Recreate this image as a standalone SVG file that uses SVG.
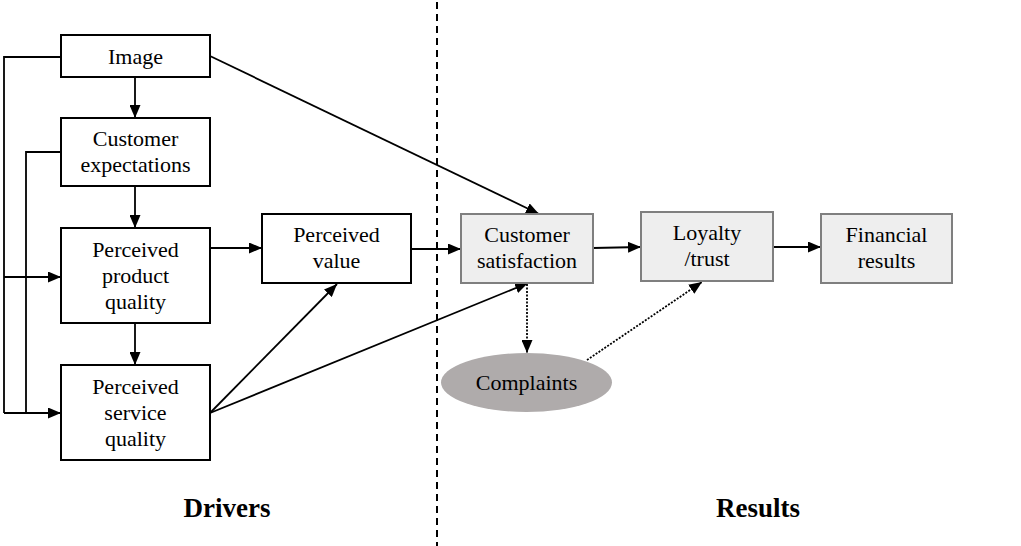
<svg xmlns="http://www.w3.org/2000/svg" width="1021" height="546" viewBox="0 0 1021 546">
<style>
.box{fill:#fff;stroke:#000;stroke-width:2}
.gbox{fill:#eeeeee;stroke:#7f7f7f;stroke-width:2}
.t{font-family:"Liberation Serif","Times New Roman",serif;font-size:22px;fill:#000;text-anchor:middle}
.b{font-family:"Liberation Serif","Times New Roman",serif;font-size:27px;font-weight:bold;fill:#000;text-anchor:middle}
.c{fill:none;stroke:#000;stroke-width:1.8}
.d{fill:none;stroke:#000;stroke-width:1.8;stroke-dasharray:2 1.5}
</style>
<defs>
<marker id="ah" viewBox="0 0 13 11" refX="13" refY="5.5" markerWidth="13" markerHeight="11" markerUnits="userSpaceOnUse" orient="auto">
<path d="M0,0 L13,5.5 L0,11 Z" fill="#000"/>
</marker>
</defs>
<line x1="437" y1="2" x2="437" y2="546" stroke="#000" stroke-width="2" stroke-dasharray="7 5"/>
<g id="connectors">
<polyline class="c" points="61,57 4,57 4,413"/>
<polyline class="c" points="61,152 26,152 26,413"/>
<line class="c" x1="4" y1="277" x2="61" y2="277" marker-end="url(#ah)"/>
<line class="c" x1="4" y1="413" x2="61" y2="413" marker-end="url(#ah)"/>
<line class="c" x1="135" y1="77" x2="135" y2="118" marker-end="url(#ah)"/>
<line class="c" x1="135" y1="186" x2="135" y2="228" marker-end="url(#ah)"/>
<line class="c" x1="135" y1="323" x2="135" y2="365" marker-end="url(#ah)"/>
<line class="c" x1="210" y1="248" x2="262" y2="248" marker-end="url(#ah)"/>
<line class="c" x1="411" y1="249" x2="461" y2="249" marker-end="url(#ah)"/>
<line class="c" x1="210" y1="56" x2="539" y2="214" marker-end="url(#ah)"/>
<line class="c" x1="210" y1="413" x2="337" y2="284" marker-end="url(#ah)"/>
<line class="c" x1="210" y1="413" x2="528" y2="283" marker-end="url(#ah)"/>
<line class="c" x1="593" y1="248" x2="641" y2="247" marker-end="url(#ah)"/>
<line class="c" x1="773" y1="247" x2="821" y2="247" marker-end="url(#ah)"/>
<line class="d" x1="527" y1="284" x2="527" y2="353" marker-end="url(#ah)"/>
<line class="d" x1="587" y1="360" x2="702" y2="282" marker-end="url(#ah)"/>
</g>
<g id="image"><rect class="box" x="61" y="35" width="149" height="42"/><text class="t" x="135.5" y="64">Image</text></g>
<g id="expectations"><rect class="box" x="61" y="118" width="149" height="68"/><text class="t" x="135.5" y="146">Customer</text><text class="t" x="135.5" y="172">expectations</text></g>
<g id="product"><rect class="box" x="61" y="228" width="149" height="95"/><text class="t" x="135.5" y="257">Perceived</text><text class="t" x="135.5" y="283">product</text><text class="t" x="135.5" y="309">quality</text></g>
<g id="service"><rect class="box" x="61" y="365" width="149" height="95"/><text class="t" x="135.5" y="394">Perceived</text><text class="t" x="135.5" y="420">service</text><text class="t" x="135.5" y="446">quality</text></g>
<g id="value"><rect class="box" x="262" y="214" width="149" height="69"/><text class="t" x="336.5" y="242">Perceived</text><text class="t" x="336.5" y="268">value</text></g>
<g id="satisfaction"><rect class="gbox" x="461" y="214" width="132" height="69"/><text class="t" x="527" y="242">Customer</text><text class="t" x="527" y="268">satisfaction</text></g>
<g id="loyalty"><rect class="gbox" x="641" y="212" width="132" height="69"/><text class="t" x="707" y="240">Loyalty</text><text class="t" x="707" y="266">/trust</text></g>
<g id="financial"><rect class="gbox" x="821" y="214" width="131" height="69"/><text class="t" x="886.5" y="242">Financial</text><text class="t" x="886.5" y="268">results</text></g>
<g id="complaints"><ellipse cx="526.5" cy="382.5" rx="85.5" ry="29.5" fill="#afabab"/><text class="t" x="526.5" y="390">Complaints</text></g>
<text class="b" x="227" y="517">Drivers</text>
<text class="b" x="758" y="517">Results</text>
</svg>
